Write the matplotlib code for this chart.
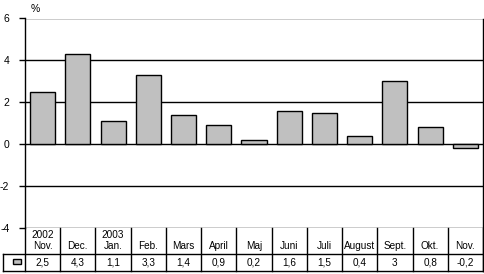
import matplotlib
matplotlib.use("Agg")
import matplotlib.pyplot as plt
from matplotlib.transforms import blended_transform_factory
from matplotlib.patches import Rectangle

categories = ["2002\nNov.", "Dec.", "2003\nJan.", "Feb.", "Mars", "April", "Maj",
              "Juni", "Juli", "August", "Sept.", "Okt.", "Nov."]
values = [2.5, 4.3, 1.1, 3.3, 1.4, 0.9, 0.2, 1.6, 1.5, 0.4, 3, 0.8, -0.2]
value_labels = ["2,5", "4,3", "1,1", "3,3", "1,4", "0,9", "0,2", "1,6", "1,5", "0,4", "3", "0,8", "-0,2"]
yticks = [-4, -2, 0, 2, 4, 6]

plt.rcParams['font.family'] = ['Liberation Sans', 'DejaVu Sans']

W, H = 485, 274
fig = plt.figure(figsize=(W / 100, H / 100), dpi=100)
x0, x1 = 25, 483
ytop, ybot = 18.5, 228
ax = fig.add_axes([x0 / W, 1 - ybot / H, (x1 - x0) / W, (ybot - ytop) / H])

n = len(values)
xs = list(range(n))
ax.bar(xs, values, width=0.71, color="#C0C0C0", edgecolor="black", linewidth=1.0, zorder=3)
ax.set_xlim(-0.5, n - 0.5)
ax.set_ylim(-4, 6)
ax.set_yticks(yticks)
ax.set_yticklabels([str(t) for t in yticks], fontsize=7.5)
ax.tick_params(axis='y', direction='out', length=4.3, width=1, pad=7)
ax.set_xticks([])
for t in yticks:
    ax.axhline(t, color="black", linewidth=1.0, zorder=2)
for s in ["top", "bottom"]:
    ax.spines[s].set_visible(False)
ax.spines["left"].set_linewidth(1.0)
ax.spines["right"].set_visible(False)

ax.text(0.013, 1.045, "%", transform=ax.transAxes, fontsize=7.5, ha="left", va="center")

# data table
ah = ybot - ytop
r1 = -(254 - ybot) / ah
r2 = -(271 - ybot) / ah
tr = blended_transform_factory(ax.transData, ax.transAxes)
lw = 1.0
for i in range(n + 1):
    ax.plot([i - 0.5, i - 0.5], [0, r2], transform=tr, color="black", lw=lw, clip_on=False)
ax.plot([n - 0.5, n - 0.5], [1, r2], transform=tr, color="black", lw=lw, clip_on=False)
figtr = fig.transFigure
ax.plot([3 / W, x1 / W], [1 - 254 / H, 1 - 254 / H], transform=figtr, color="black", lw=lw, clip_on=False)
ax.plot([3 / W, x1 / W], [1 - 271 / H, 1 - 271 / H], transform=figtr, color="black", lw=lw, clip_on=False)
ax.plot([3 / W, 3 / W], [1 - 254 / H, 1 - 271 / H], transform=figtr, color="black", lw=lw, clip_on=False)
fig.patches.append(Rectangle((13 / W, 1 - 264 / H), 8 / W, 5.5 / H, transform=figtr,
                             facecolor="#C0C0C0", edgecolor="black", lw=1.0))

for i, (c, v) in enumerate(zip(categories, value_labels)):
    ax.text(i, r1 + 0.012, c, transform=tr, ha="center", va="bottom", fontsize=7.2,
            linespacing=1.15, clip_on=False)
    ax.text(i, (r1 + r2) / 2, v, transform=tr, ha="center", va="center", fontsize=7.2,
            clip_on=False)

fig.savefig("out.png", dpi=100)
